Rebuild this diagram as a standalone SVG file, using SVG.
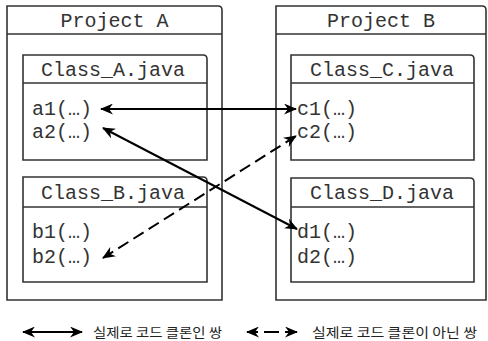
<svg xmlns="http://www.w3.org/2000/svg" width="488" height="341" viewBox="0 0 488 341">
<defs>
<style>
.box{fill:#fff;stroke:#333;stroke-width:1.6}
.ln{stroke:#333;stroke-width:1.6}
.mono{font-family:"Liberation Mono","DejaVu Sans Mono",monospace;font-size:20px;fill:#333}
.mid{text-anchor:middle}
.con{fill:none;stroke:#000;stroke-width:2}
.dash{stroke-dasharray:12 6}
.kr{font-family:"Noto Sans CJK KR","Noto Sans",sans-serif;font-size:13px;fill:#222}
</style>
<marker id="ah" viewBox="0 0 13 11" refX="12" refY="5.5" markerWidth="13" markerHeight="11" markerUnits="userSpaceOnUse" orient="auto-start-reverse">
<path d="M0,0 L13,5.5 L0,11 L4,5.5 Z" fill="#000"/>
</marker>
</defs>
<rect width="488" height="341" fill="#fff"/>
<g id="projectA">
<path class="box" d="M7,300 V6 H218 Q222,6 222,10 V300 Z"/>
<line class="ln" x1="7" y1="34" x2="222" y2="34"/>
<text class="mono mid" x="114.5" y="27">Project A</text>
</g>
<g id="projectB">
<path class="box" d="M276,300 V6 H482 Q486,6 486,10 V300 Z"/>
<line class="ln" x1="276" y1="34" x2="486" y2="34"/>
<text class="mono mid" x="381" y="27">Project B</text>
</g>
<g id="classA">
<path class="box" d="M23,160 V55 H203 Q207,55 207,59 V160 Z"/>
<line class="ln" x1="23" y1="83" x2="207" y2="83"/>
<text class="mono mid" x="113" y="76">Class_A.java</text>
<text class="mono" x="32" y="115">a1(…)</text>
<text class="mono" x="32" y="138">a2(…)</text>
</g>
<g id="classB">
<path class="box" d="M23,282 V177 H203 Q207,177 207,181 V282 Z"/>
<line class="ln" x1="23" y1="207" x2="207" y2="207"/>
<text class="mono mid" x="113" y="199">Class_B.java</text>
<text class="mono" x="32" y="238">b1(…)</text>
<text class="mono" x="32" y="263">b2(…)</text>
</g>
<g id="classC">
<path class="box" d="M291,160 V55 H470 Q474,55 474,59 V160 Z"/>
<line class="ln" x1="291" y1="83" x2="474" y2="83"/>
<text class="mono mid" x="382" y="76">Class_C.java</text>
<text class="mono" x="297" y="115">c1(…)</text>
<text class="mono" x="297" y="138">c2(…)</text>
</g>
<g id="classD">
<path class="box" d="M291,282 V178 H470 Q474,178 474,182 V282 Z"/>
<line class="ln" x1="291" y1="207" x2="474" y2="207"/>
<text class="mono mid" x="382" y="199">Class_D.java</text>
<text class="mono" x="297" y="238">d1(…)</text>
<text class="mono" x="297" y="263">d2(…)</text>
</g>
<g id="connectors">
<line class="con" x1="101" y1="109" x2="296" y2="109" marker-start="url(#ah)" marker-end="url(#ah)"/>
<line class="con" x1="103" y1="128" x2="297" y2="229" marker-start="url(#ah)" marker-end="url(#ah)"/>
<line class="con dash" x1="103" y1="258" x2="296" y2="136" marker-start="url(#ah)" marker-end="url(#ah)"/>
</g>
<g id="legend">
<line class="con" x1="23" y1="332" x2="82" y2="332" marker-start="url(#ah)" marker-end="url(#ah)"/>
<text class="kr" x="93" y="337" textLength="129" lengthAdjust="spacingAndGlyphs">실제로 코드 클론인 쌍</text>
<line class="con" x1="247" y1="332" x2="297" y2="332" stroke-dasharray="11 6 15 6 12" marker-start="url(#ah)" marker-end="url(#ah)"/>
<text class="kr" x="312" y="337" textLength="165" lengthAdjust="spacingAndGlyphs">실제로 코드 클론이 아닌 쌍</text>
</g>
</svg>
